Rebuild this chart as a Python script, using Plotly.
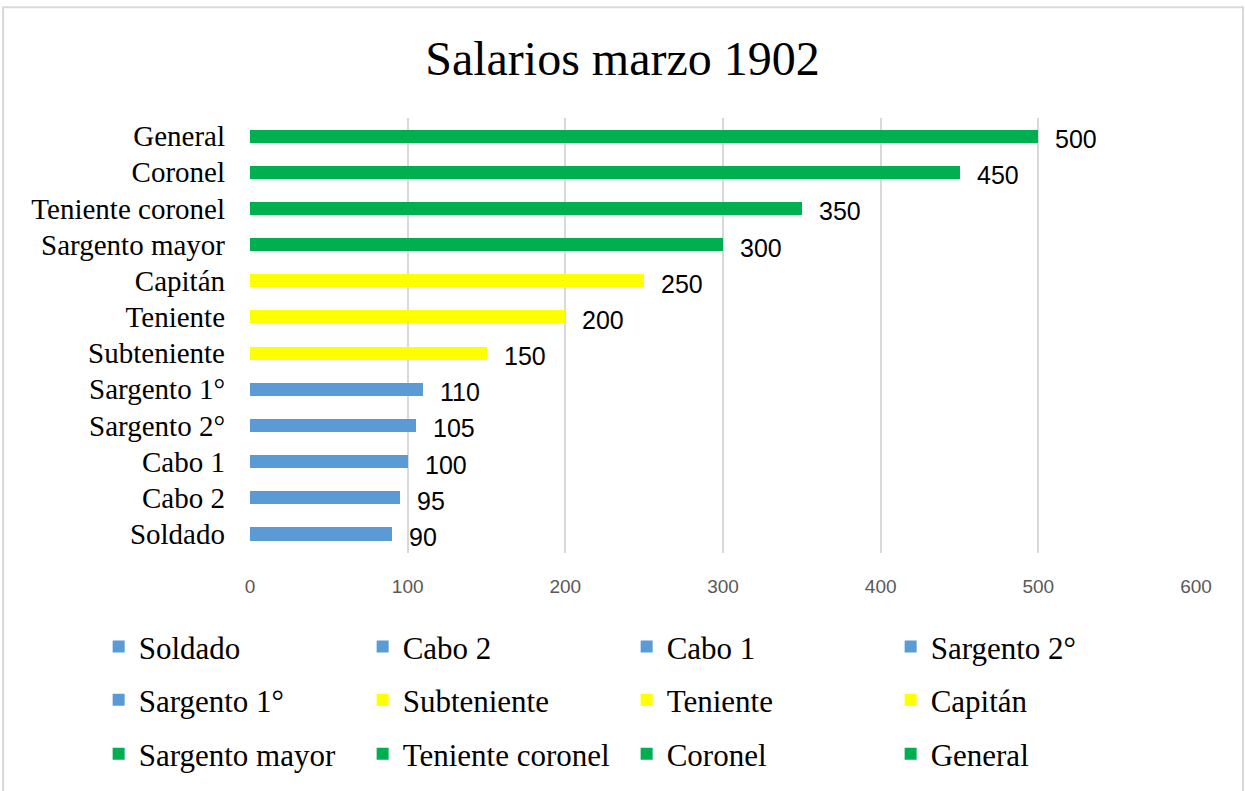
import plotly.graph_objects as go

categories = ["Soldado", "Cabo 2", "Cabo 1", "Sargento 2°", "Sargento 1°",
              "Subteniente", "Teniente", "Capitán",
              "Sargento mayor", "Teniente coronel", "Coronel", "General"]
values = [90, 95, 100, 105, 110, 150, 200, 250, 300, 350, 450, 500]
colors = ["#5B9BD5"] * 5 + ["#FFFF00"] * 3 + ["#00B050"] * 4
x_ticks = [0, 100, 200, 300, 400, 500, 600]

SERIF = "Liberation Serif, Times New Roman, serif"
SANS = "Liberation Sans, Arial, sans-serif"

legend_ids = ["legend", "legend2", "legend3"]

fig = go.Figure()
for i, (cat, val, col) in enumerate(zip(categories, values, colors)):
    fig.add_trace(go.Bar(
        y=[cat], x=[val], name=cat, orientation="h",
        marker=dict(color=col, line=dict(width=0)),
        width=0.36, hoverinfo="x+y",
        legend=legend_ids[i // 4],
    ))

annotations = [
    dict(x=v, y=c, xref="x", yref="y", text=str(v), showarrow=False,
         xanchor="left", yanchor="middle", xshift=15, yshift=-3,
         font=dict(family=SANS, size=25, color="#000000"))
    for c, v in zip(categories, values)
]

legend_common = dict(orientation="h", xanchor="left", yanchor="middle",
                     traceorder="normal", entrywidth=219,
                     entrywidthmode="pixels",
                     font=dict(family=SERIF, size=31, color="#000000"),
                     itemwidth=30, bgcolor="rgba(0,0,0,0)")

fig.update_layout(
    width=1245, height=791,
    paper_bgcolor="white", plot_bgcolor="white",
    margin=dict(l=250, r=49, t=118, b=237),
    barmode="stack",
    title=dict(text="Salarios marzo 1902", x=0.5, xanchor="center",
               y=0.927, yanchor="middle",
               font=dict(family=SERIF, size=48, color="#000000")),
    xaxis=dict(range=[0, 600], tickvals=x_ticks, showgrid=True,
               gridcolor="#d9d9d9", gridwidth=1.5, zeroline=False,
               showline=False, ticks="",
               tickfont=dict(family=SANS, size=19, color="#595959"),
               ticklabelstandoff=20),
    yaxis=dict(categoryorder="array", categoryarray=categories,
               showgrid=False, zeroline=False, showline=False, ticks="",
               tickfont=dict(family=SERIF, size=29, color="#000000"),
               ticklabelstandoff=24),
    legend=dict(legend_common, x=-0.16, y=-0.213),
    legend2=dict(legend_common, x=-0.16, y=-0.335),
    legend3=dict(legend_common, x=-0.16, y=-0.459),
    annotations=annotations,
    shapes=[dict(type="rect", xref="paper", yref="paper",
                 x0=-0.261, x1=1.0497, y0=-0.6, y1=1.2546,
                 line=dict(color="#d9d9d9", width=2), layer="below")],
)

fig.write_html("out.html",
               config={"displayModeBar": False},
               post_script="document.body.style.margin='0';")
